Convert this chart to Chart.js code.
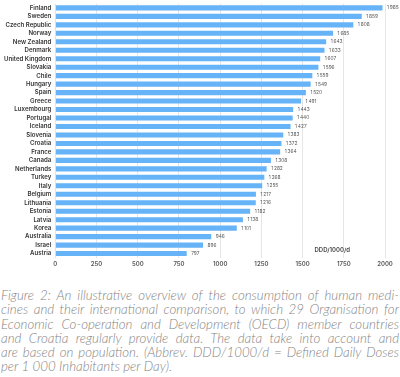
<!DOCTYPE html>
<html>
<head>
<meta charset="utf-8">
<script src="https://cdn.jsdelivr.net/npm/chart.js@4"></script>
<style>
    html, body { margin: 0; padding: 0; background: #fff; width: 400px; overflow: hidden; }
    #wrap { width: 400px; height: 275px; position: relative; margin-top: -4px; }
    .caption {
        font-family: Lato, "Open Sans", sans-serif;
        font-style: italic;
        font-weight: 300;
        font-size: 13.3px;
        line-height: 14.3px;
        color: #858585;
        margin: 17px 1px 0 1px;
    }
    .caption .ln { text-align: justify; text-align-last: justify; white-space: nowrap; }
    .caption .ln.last { text-align-last: left; }
</style>
</head>
<body>
<div id="wrap"><canvas id="chart" width="400" height="275"></canvas></div>
<div class="caption">
    <div class="ln">Figure 2: An illustrative overview of the consumption of human medi-</div>
    <div class="ln">cines and their international comparison, to which 29 Organisation for</div>
    <div class="ln">Economic Co-operation and Development (OECD) member countries</div>
    <div class="ln">and Croatia regularly provide data. The data take into account and</div>
    <div class="ln">are based on population. (Abbrev. DDD/1000/d = Defined Daily Doses</div>
    <div class="ln last">per 1 000 Inhabitants per Day).</div>
</div>
<script>
const countries = ['Finland', 'Sweden', 'Czech Republic', 'Norway', 'New Zealand', 'Denmark',
    'United Kingdom', 'Slovakia', 'Chile', 'Hungary', 'Spain', 'Greece', 'Luxembourg', 'Portugal',
    'Iceland', 'Slovenia', 'Croatia', 'France', 'Canada', 'Netherlands', 'Turkey', 'Italy',
    'Belgium', 'Lithuania', 'Estonia', 'Latvia', 'Korea', 'Australia', 'Israel', 'Austria'];
const ddd = [1985, 1859, 1808, 1685, 1643, 1633, 1607, 1596, 1559, 1549, 1520, 1491, 1443, 1440,
    1427, 1383, 1372, 1364, 1308, 1282, 1268, 1255, 1217, 1216, 1182, 1138, 1101, 946, 896, 797];
const xTicks = [0, 250, 500, 750, 1000, 1250, 1500, 1750, 2000];
const unitLabel = 'DDD/1000/d';

function fmt(v) {
    const s = String(v);
    return s.length > 3 ? s.slice(0, -3) + '\u2009' + s.slice(-3) : s;
}

// value labels after each bar + unit label inside the plot
const valueLabels = {
    id: 'valueLabels',
    afterDatasetsDraw(chart) {
        const ctx = chart.ctx;
        const meta = chart.getDatasetMeta(0);
        ctx.save();
        ctx.font = '400 4.8px Inter, sans-serif';
        ctx.fillStyle = '#555';
        ctx.textAlign = 'left';
        ctx.textBaseline = 'middle';
        meta.data.forEach((bar, i) => {
            ctx.fillText(fmt(ddd[i]), bar.x + 4.5, bar.y);
        });
        const xs = chart.scales.x, ys = chart.scales.y;
        ctx.font = '600 6px Inter, sans-serif';
        ctx.fillStyle = '#444';
        ctx.textAlign = 'center';
        ctx.fillText(unitLabel, xs.getPixelForValue(1680), ys.getPixelForValue(28.6));
        ctx.restore();
    }
};

new Chart(document.getElementById('chart'), {
    type: 'bar',
    data: {
        labels: countries,
        datasets: [{
            data: ddd,
            backgroundColor: '#66b3f7',
            borderWidth: 0,
            barPercentage: 0.6,
            categoryPercentage: 1.0
        }]
    },
    options: {
        indexAxis: 'y',
        responsive: false,
        animation: false,
        layout: { padding: { left: 0, right: 15, top: 0, bottom: 0 } },
        plugins: {
            legend: { display: false },
            tooltip: { enabled: false }
        },
        scales: {
            x: {
                min: 0,
                max: 2000,
                afterBuildTicks: (axis) => { axis.ticks = xTicks.map(v => ({ value: v })); },
                ticks: {
                    color: '#555',
                    font: { family: 'Inter', size: 6, weight: '600' },
                    padding: 3,
                    callback: (v) => String(v)
                },
                grid: { color: '#e6e6e6', lineWidth: 1, drawTicks: false },
                border: { display: false }
            },
            y: {
                ticks: {
                    color: '#333',
                    font: { family: 'Inter', size: 6.1, weight: '600' },
                    padding: 4,
                    autoSkip: false
                },
                grid: { display: false, drawTicks: false },
                border: { display: false }
            }
        }
    },
    plugins: [valueLabels]
});
</script>
</body>
</html>
